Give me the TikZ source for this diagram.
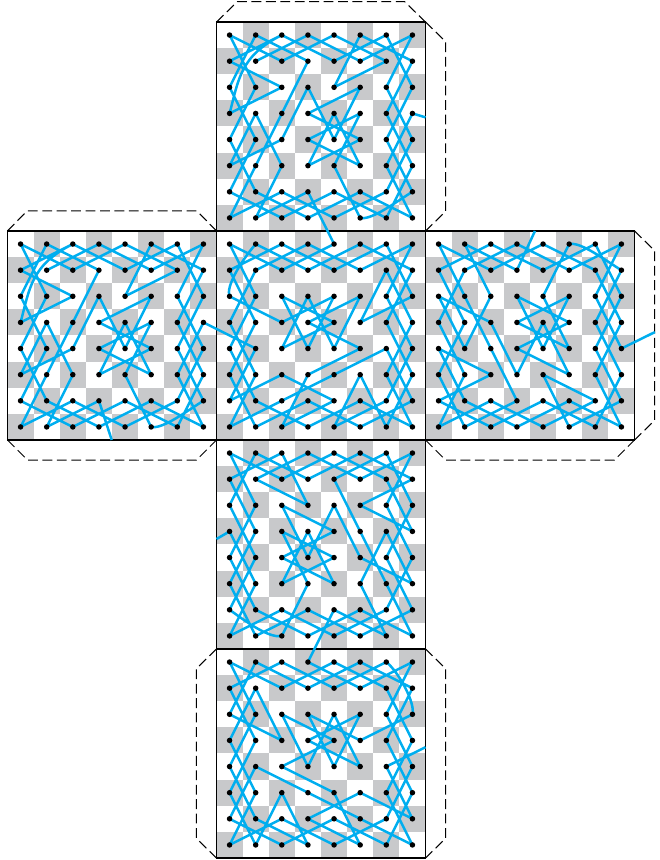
\documentclass[tikz,border=0pt]{standalone}
\usepackage{xcolor}
\usepackage{tikz}
\definecolor{boardgray}{HTML}{C8C9CB}
\definecolor{tourcyan}{HTML}{00AEEF}

\begin{document}
\begin{tikzpicture}[
  x=0.7cm,y=-0.7cm,
  cell/.style={fill=boardgray},
  facebox/.style={draw=black,line width=0.9pt},
  flap/.style={draw=black,line width=0.8pt,dash pattern=on 7.5pt off 3.5pt},
  tour/.style={draw=tourcyan,line width=1.9pt,line join=round},
  dot/.style={circle,fill=black,inner sep=0pt,minimum size=4.2pt}
]
  \useasboundingbox (-0.287,-0.842) rectangle (24.976,32.077);
  \foreach \f/\x/\y in {T/8/0,L/0/8,F/8/8,R/16/8,B/8/16,D/8/24} {
    \foreach \col in {0,...,7} \foreach \row in {0,...,7} {
      \pgfmathtruncatemacro{\odd}{mod(\col+\row,2)}
      \ifnum\odd=1 \fill[cell] (\x+\col,\y+\row) rectangle ++(1,1); \fi
      \coordinate (\f\col\row) at (\x+\col+.5,\y+\row+.5);
    }
    \draw[facebox] (\x,\y) rectangle ++(8,8);
  }
  \draw[flap] (8,0) -- (8.8,-.78) -- (15.2,-.78) -- (16,0);
  \draw[flap] (16,0) -- (16.77,.75) -- (16.77,7.25) -- (16,8);
  \draw[flap] (0,8) -- (.75,7.23) -- (7.25,7.23) -- (8,8);
  \draw[flap] (0,16) -- (.77,16.77) -- (7.23,16.77) -- (8,16);
  \draw[flap] (24,8) -- (24.77,8.75) -- (24.77,15.25) -- (24,16);
  \draw[flap] (16,16) -- (16.77,16.77) -- (23.23,16.77) -- (24,16);
  \draw[flap] (8,24) -- (7.23,24.75) -- (7.23,31.25) -- (8,32);
  \draw[flap] (16,24) -- (16.77,24.75) -- (16.77,31.25) -- (16,32);
  \coordinate (Tright) at (16,3.65);
  \coordinate (Lbottom) at (3.99,16);
  \coordinate (Rtop) at (20.19,8);
  \coordinate (Rright) at (24.78,11.87);
  \coordinate (Bleft) at (8,19.79);
  \coordinate (Dright) at (16,27.76);
  \foreach \f/\s/\e in {T/Tright/F40,L/F14/Lbottom} {
    \draw[tour] (\s) -- (\f73) -- (\f65) -- (\f77) -- (\f56) -- (\f37) -- (\f16) -- (\f04) -- (\f12) -- (\f00) -- (\f21)
      -- (\f40) -- (\f61) -- (\f42) -- (\f50) -- (\f71) -- (\f63) -- (\f75) -- (\f67) -- (\f46) -- (\f27)
      -- (\f06) -- (\f14) -- (\f02) -- (\f10) -- (\f31) -- (\f23) -- (\f15) -- (\f07) -- (\f26) -- (\f47)
      -- (\f66) -- (\f74) -- (\f62) -- (\f70) -- (\f51) -- (\f30) -- (\f11)
      (\f20) .. controls +(-1.6,.8) and +(.35,-1.3) .. (\f03) -- (\f22) -- (\f01)
      -- (\f20) -- (\f41) -- (\f60) -- (\f72) -- (\f64) -- (\f76) .. controls +(-.6,.36) and +(.45,.1) .. (\f57)
      -- (\f45) -- (\f53) -- (\f34) -- (\f55) -- (\f43) -- (\f35) -- (\f54) -- (\f33) -- (\f52) -- (\f44)
      -- (\f32) -- (\f24) -- (\f05) -- (\f13) -- (\f25) -- (\f17) -- (\f36) -- (\e);
  }
  \draw[tour] (F14) -- (F06) -- (F25) -- (F46) -- (F27) -- (F35) -- (F54) -- (F33) -- (F52) -- (F44)
    -- (F32) -- (F24) -- (F43) -- (F22) -- (F34) -- (F42) -- (F23) -- (F02) .. controls +(-.15,-.35) and +(-.6,.7) .. (F10)
    -- (F31) -- (F50) -- (F71) -- (F63) -- (F75) -- (F67) -- (F55) -- (F47) -- (F66) -- (F74)
    -- (F62) -- (F70) -- (F51) -- (F30) -- (F11) -- (F03) -- (F15) -- (F07) -- (F26) -- (F45)
    -- (F64) -- (F76) -- (F57) -- (F36) -- (F17) -- (F05) -- (F13) -- (F01) -- (F20) -- (F41)
    -- (F60) -- (F72) -- (F53) -- (F61) -- (F73) -- (F65) -- (F77) -- (F56) -- (F37) -- (F16)
    -- (F04) -- (F12) -- (F00) -- (F21) -- (F40);
  \draw[tour] (Rtop) -- (R31) -- (R10) -- (R22) -- (R14) -- (R02) -- (R23) -- (R35) -- (R43) -- (R55) -- (R34)
    -- (R53) -- (R32) -- (R44) -- (R52) -- (R33) -- (R54) -- (R42) -- (R50) .. controls +(.45,-.1) and +(-.6,-.36) .. (R71)
    -- (R63) -- (R75) -- (R67) -- (R46) -- (R27) -- (R06) -- (R25) -- (R04) -- (R16) -- (R37)
    -- (R56) -- (R77) -- (R65) -- (R73) -- (R61) -- (R40) -- (R21) -- (R00) -- (R12) -- (R24)
    -- (R36) -- (R17) -- (R05) -- (R13) -- (R01) -- (R20) -- (R41) -- (R60) -- (R72) -- (R64)
    -- (R76) -- (R57) -- (R45) -- (R66) -- (R47) -- (R26) -- (R07) -- (R15) -- (R03) -- (R11)
    -- (R30) -- (R51) -- (R70) -- (R62) -- (R74) -- (Rright);
  \draw[tour] (Bleft) -- (B03) -- (B15) -- (B07) -- (B26) -- (B47) -- (B66) -- (B74) -- (B62) -- (B70) -- (B51)
    -- (B30) -- (B11) -- (B32) -- (B20) -- (B01) -- (B13) -- (B05) -- (B17) -- (B36) -- (B57)
    -- (B76) -- (B64) -- (B72) -- (B60) -- (B41) -- (B53) -- (B65) -- (B77) -- (B56) -- (B37)
    -- (B16) -- (B04) -- (B12) -- (B00) -- (B21) -- (B40) -- (B61) -- (B73) -- (B52) -- (B71)
    -- (B50) -- (B31) -- (B10) -- (B02) -- (B14) -- (B06) .. controls +(.5,.35) and +(-.5,.12) .. (B27)
    -- (B35) -- (B23) -- (B44) -- (B25) -- (B33) -- (B45) -- (B24) -- (B43) -- (B22) -- (B34)
    -- (B42) -- (B54) -- (B75) -- (B63) -- (B55) -- (B67) -- (B46) -- (D30);
  \draw[tour] (D30) -- (D51) -- (D70) -- (D62) -- (D74) -- (D66) -- (D47) -- (D26) -- (D07) -- (D15)
    -- (D03) -- (D11) -- (D23) -- (D02) -- (D10) -- (D31) -- (D50) -- (D71) -- (D63) -- (D75)
    -- (D67) -- (D46) -- (D27) -- (D06) -- (D14) -- (D35) -- (D56) -- (D77) -- (D65) -- (D73)
    -- (D61) -- (D40) -- (D21) -- (D00) -- (D12) -- (D04) -- (D16) -- (D37) -- (D25) -- (D17)
    -- (D05) -- (D13) -- (D01) -- (D20) -- (D41) -- (D60) .. controls +(.45,.35) and +(.12,-.45) .. (D72)
    -- (D53) -- (D32) -- (D44) -- (D52) -- (D33) -- (D54) -- (D42) -- (D34) -- (D22) -- (D43)
    -- (D24) -- (D45) -- (D57) -- (D36) -- (D55) -- (D76) -- (D64) -- (Dright);
  \foreach \f in {T,L,F,R,B,D} \foreach \col in {0,...,7} \foreach \row in {0,...,7}
    \node[dot] (dot\f\col\row) at (\f\col\row) {};
\end{tikzpicture}
\end{document}
